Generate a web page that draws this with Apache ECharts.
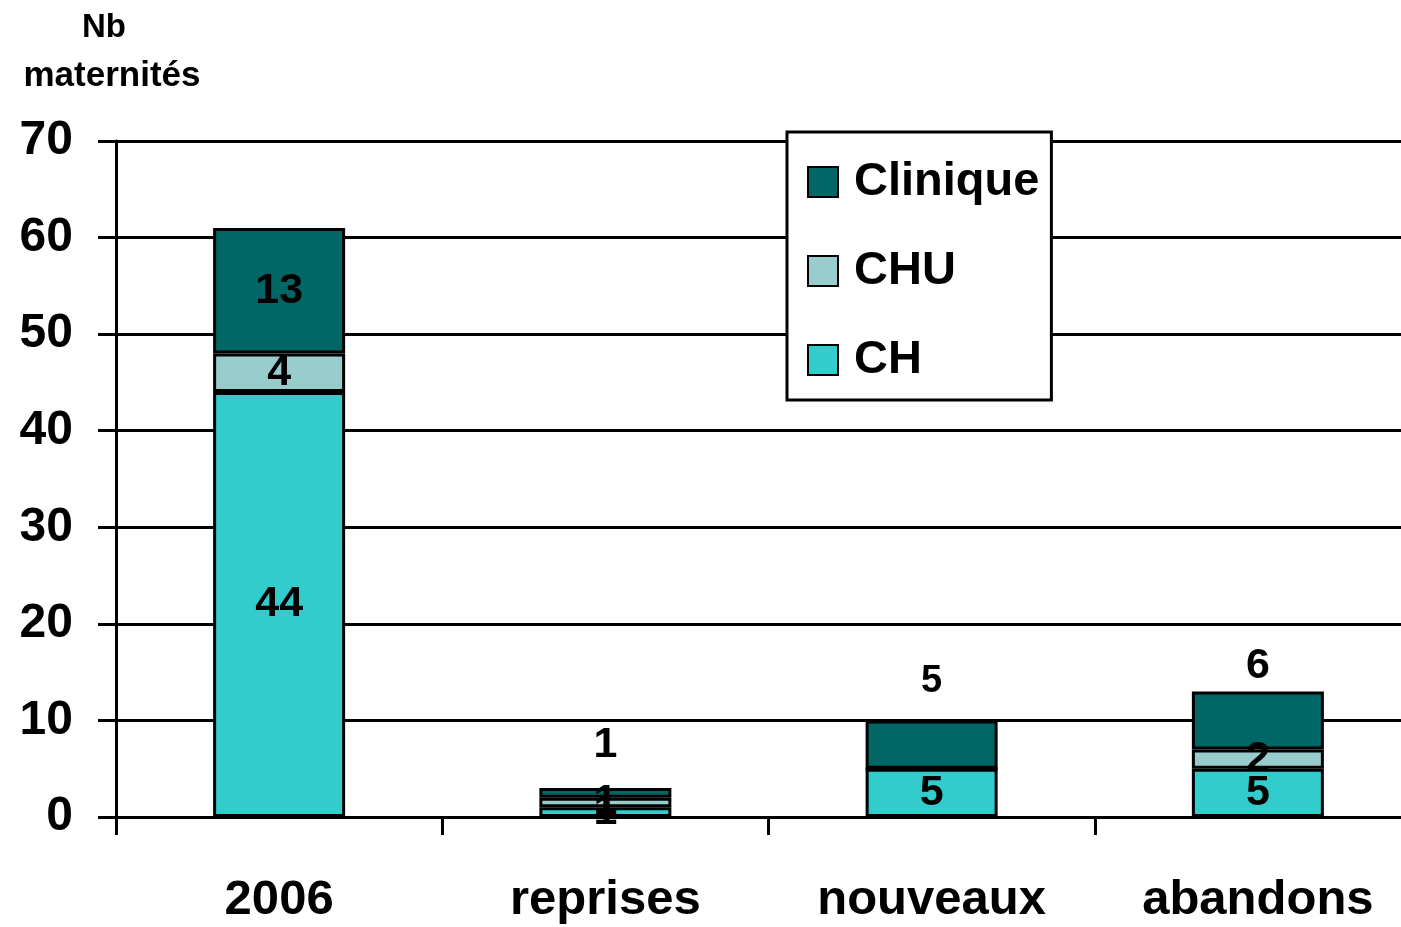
<!DOCTYPE html>
<html><head><meta charset="utf-8">
<script src="https://cdn.jsdelivr.net/npm/echarts@6/dist/echarts.min.js"></script>
<style>html,body{margin:0;padding:0;background:#fff;overflow:hidden}#c{width:1430px;height:927px}</style>
</head><body><div id="c"></div>
<script>
const categories = ['2006', 'reprises', 'nouveaux', 'abandons'];
const chValues = [44, 1, 5, 5];
const chuValues = [4, 1, 0, 2];
const cliniqueValues = [13, 1, 5, 6];
const yTicks = [0, 10, 20, 30, 40, 50, 60, 70];
const yTitleLines = ['Nb', 'maternités'];

const FONT = '"Liberation Sans", Arial, sans-serif';
const chart = echarts.init(document.getElementById('c'));
const baseLabel = {
  show: true, position: 'inside', color: '#000', fontFamily: FONT,
  fontWeight: 'bold', fontSize: 43,
  formatter: p => (p.value === 0 ? '' : String(p.value))
};
const itemStyle = c => ({ color: c, borderColor: '#000', borderWidth: 3 });
// Clinique labels: inside for first bar, above the bar for the others
const cliniqueLabelCfg = [
  { position: 'inside' },
  { position: 'top', distance: 21 },
  { position: 'top', distance: 20, fontSize: 38 },
  { position: 'top', distance: 4 }
];
chart.setOption({
  animation: false,
  backgroundColor: '#fff',
  textStyle: { fontFamily: FONT },
  graphic: [
    { type: 'text', x: 104, y: 11,
      style: { text: yTitleLines[0], font: 'bold 33px ' + FONT, fill: '#000', align: 'center' } },
    { type: 'text', x: 112, y: 59,
      style: { text: yTitleLines[1], font: 'bold 35px ' + FONT, fill: '#000', align: 'center' } }
  ],
  legend: {
    orient: 'vertical', left: 787, top: 132,
    data: ['Clinique', 'CHU', 'CH'],
    backgroundColor: '#fff', borderColor: '#000', borderWidth: 3, borderRadius: 0,
    padding: [26, 12, 16, 20],
    itemWidth: 30, itemHeight: 30, itemGap: 41,
    icon: 'rect',
    textStyle: { fontFamily: FONT, fontWeight: 'bold', fontSize: 47, color: '#000', lineHeight: 48, padding: [0, 0, 0, 11] }
  },
  grid: { left: 116, top: 141, width: 1305, height: 676, containLabel: false },
  xAxis: {
    type: 'category', data: categories,
    axisLine: { lineStyle: { color: '#000', width: 3 } },
    axisTick: { show: true, length: 18, lineStyle: { color: '#000', width: 3 } },
    axisLabel: { color: '#000', fontFamily: FONT, fontWeight: 'bold', fontSize: 49, margin: 59 }
  },
  yAxis: {
    type: 'value', min: 0, max: 70, interval: 10,
    axisLine: { show: true, lineStyle: { color: '#000', width: 3 } },
    axisTick: { show: true, length: 18, lineStyle: { color: '#000', width: 3 } },
    axisLabel: { color: '#000', fontFamily: FONT, fontWeight: 'bold', fontSize: 48, margin: 43,
      formatter: v => (yTicks.includes(v) ? String(v) : '') },
    splitLine: { show: true, lineStyle: { color: '#000', width: 3 } }
  },
  series: [
    { name: 'CH', type: 'bar', stack: 's', barWidth: 132, data: chValues,
      itemStyle: itemStyle('#33CCCC'), label: baseLabel },
    { name: 'CHU', type: 'bar', stack: 's', barWidth: 132, data: chuValues,
      itemStyle: itemStyle('#99CCCC'), label: baseLabel },
    { name: 'Clinique', type: 'bar', stack: 's', barWidth: 132,
      data: cliniqueValues.map((v, i) => ({ value: v, label: Object.assign({}, baseLabel, cliniqueLabelCfg[i]) })),
      itemStyle: itemStyle('#006666'), label: baseLabel }
  ]
});
</script></body></html>
